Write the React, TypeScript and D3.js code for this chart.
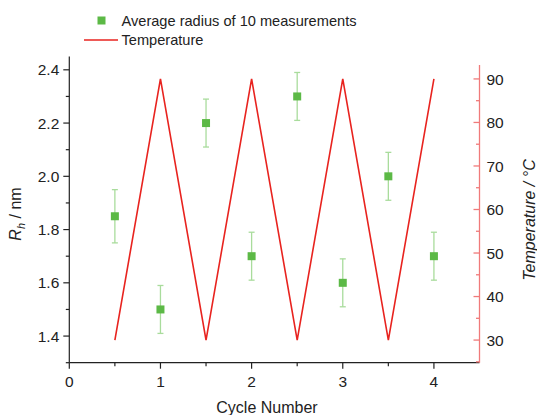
import React from "react";
import * as d3 from "d3";

const cycles = [0.5, 1, 1.5, 2, 2.5, 3, 3.5, 4];
const radius = [1.85, 1.5, 2.2, 1.7, 2.3, 1.6, 2.0, 1.7];
const radiusErr = [0.1, 0.09, 0.09, 0.09, 0.09, 0.09, 0.09, 0.09];
const temperature = [30, 90, 30, 90, 30, 90, 30, 90];
const xTicks = [0, 1, 2, 3, 4];
const xMinor = [0.5, 1.5, 2.5, 3.5];
const yTicks = [1.4, 1.6, 1.8, 2.0, 2.2, 2.4];
const yMinor = [1.3, 1.5, 1.7, 1.9, 2.1, 2.3];
const tTicks = [30, 40, 50, 60, 70, 80, 90];
const tMinor = [25, 35, 45, 55, 65, 75, 85];

const W = 537, H = 415;
const L = 69.3, R = 479.5, T = 56.5, B = 362.7;

export default function App() {
  const x = d3.scaleLinear().domain([0, 4.5]).range([L, R]);
  const y = d3.scaleLinear().domain([1.3, 2.45]).range([B, T]);
  const yt = d3.scaleLinear().domain([24.8, 93.2]).range([B, 65]);
  const line = d3.line<number>().x((_, i) => x(cycles[i])).y((d) => yt(d));
  const font = "'Liberation Sans', Arial, sans-serif";
  const ink = "#222";
  const red = "#e8231f";
  const axisRed = "#f07a7a";
  const green = "#5cb946";
  const lightGreen = "#a9dc9c";
  const tickFs = 15.5;
  return (
    <svg width={W} height={H} style={{ position: "absolute", left: 0, top: 0, background: "#fff" }} fontFamily={font}>
      <rect width={W} height={H} fill="#fff" />
      {/* temperature line */}
      <path d={line(temperature) || ""} fill="none" stroke={red} strokeWidth={1.6} />
      {/* error bars and points */}
      {cycles.map((c, i) => {
        const cx = x(c);
        const y1 = y(radius[i] + radiusErr[i]);
        const y2 = y(radius[i] - radiusErr[i]);
        return (
          <g key={i}>
            <line x1={cx} x2={cx} y1={y1} y2={y2} stroke={lightGreen} strokeWidth={1.3} />
            <line x1={cx - 3} x2={cx + 3} y1={y1} y2={y1} stroke={lightGreen} strokeWidth={1.3} />
            <line x1={cx - 3} x2={cx + 3} y1={y2} y2={y2} stroke={lightGreen} strokeWidth={1.3} />
            <rect x={cx - 4} y={y(radius[i]) - 4} width={8} height={8} fill={green} />
          </g>
        );
      })}
      {/* left axis */}
      <line x1={L} x2={L} y1={T} y2={B} stroke={ink} strokeWidth={1.2} />
      {yTicks.map((t) => (
        <g key={t}>
          <line x1={L - 6} x2={L} y1={y(t)} y2={y(t)} stroke={ink} strokeWidth={1.2} />
          <text x={L - 10} y={y(t)} dy="0.36em" textAnchor="end" fontSize={tickFs} fill={ink}>{t.toFixed(1)}</text>
        </g>
      ))}
      {yMinor.map((t) => (
        <line key={t} x1={L - 3.5} x2={L} y1={y(t)} y2={y(t)} stroke={ink} strokeWidth={1.2} />
      ))}
      {/* bottom axis */}
      <line x1={L} x2={R} y1={B} y2={B} stroke={ink} strokeWidth={1.2} />
      {xTicks.map((t) => (
        <g key={t}>
          <line x1={x(t)} x2={x(t)} y1={B} y2={B + 6} stroke={ink} strokeWidth={1.2} />
          <text x={x(t)} y={386.5} textAnchor="middle" fontSize={tickFs} fill={ink}>{t}</text>
        </g>
      ))}
      {xMinor.map((t) => (
        <line key={t} x1={x(t)} x2={x(t)} y1={B} y2={B + 3.5} stroke={ink} strokeWidth={1.2} />
      ))}
      {/* right axis */}
      <line x1={R} x2={R} y1={65} y2={B} stroke={axisRed} strokeWidth={1.3} />
      {tTicks.map((t) => (
        <g key={t}>
          <line x1={R - 6} x2={R} y1={yt(t)} y2={yt(t)} stroke={axisRed} strokeWidth={1.3} />
          <text x={R + 7} y={yt(t)} dy="0.36em" textAnchor="start" fontSize={tickFs} fill={ink}>{t}</text>
        </g>
      ))}
      {tMinor.map((t) => (
        <line key={t} x1={R - 3.5} x2={R} y1={yt(t)} y2={yt(t)} stroke={axisRed} strokeWidth={1.3} />
      ))}
      {/* axis titles */}
      <text x={267} y={412.5} textAnchor="middle" fontSize={16} fill={ink}>Cycle Number</text>
      <text transform="translate(21,214) rotate(-90)" textAnchor="middle" fontSize={16} fill={ink}>
        <tspan fontStyle="italic">R</tspan>
        <tspan fontStyle="italic" fontSize={11} dy={4}>h</tspan>
        <tspan dy={-4}> / nm</tspan>
      </text>
      <text transform="translate(534.5,220) rotate(-90)" textAnchor="middle" fontSize={16} fill={ink} fontStyle="italic">
        Temperature / °C
      </text>
      {/* legend */}
      <rect x={97.5} y={16.5} width={8} height={8} fill={green} />
      <text x={121.5} y={20.5} dy="0.36em" fontSize={14.6} fill={ink}>Average radius of 10 measurements</text>
      <line x1={84} x2={118} y1={40} y2={40} stroke={red} strokeWidth={1.6} />
      <text x={121.5} y={40} dy="0.36em" fontSize={14.6} fill={ink}>Temperature</text>
    </svg>
  );
}
